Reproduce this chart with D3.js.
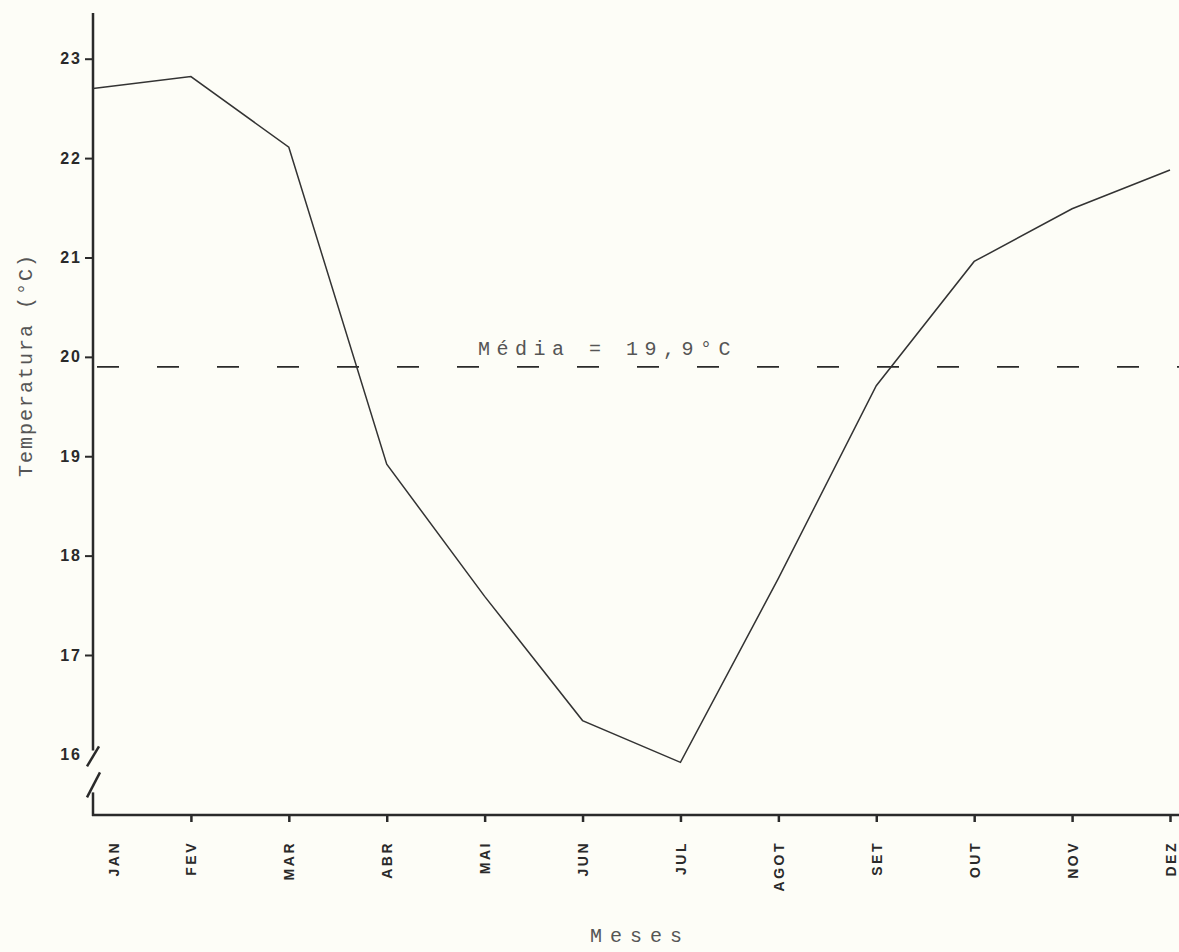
<!DOCTYPE html>
<html>
<head>
<meta charset="utf-8">
<script src="https://cdn.jsdelivr.net/npm/d3@7"></script>
<style>
  body { margin: 0; background: #fdfdf7; }
  svg { display: block; }
</style>
</head>
<body>
<div id="chart-area"></div>
<script>
const months = ['JAN', 'FEV', 'MAR', 'ABR', 'MAI', 'JUN', 'JUL', 'AGOT', 'SET', 'OUT', 'NOV', 'DEZ'];
const temps = [22.70, 22.82, 22.11, 18.92, 17.59, 16.34, 15.92, 17.77, 19.71, 20.96, 21.49, 21.88];
const yTicks = [16, 17, 18, 19, 20, 21, 22, 23];
const meanTemp = 19.9;
const meanLabel = 'Média = 19,9°C';

const W = 1179, H = 952;

const svg = d3.select('#chart-area').append('svg')
  .attr('width', W)
  .attr('height', H);

const x = d3.scalePoint()
  .domain(months)
  .range([93, 1170]);

const y = d3.scaleLinear()
  .domain([15.39, 23.46])
  .range([815, 13]);

const ink = '#2a2a2a';

// y axis: ticks + labels, domain drawn by hand because of the break
const yAx = svg.append('g')
  .attr('transform', 'translate(93,0)')
  .call(d3.axisLeft(y).tickValues(yTicks).tickSize(8).tickPadding(3).tickFormat(d3.format('d')));
yAx.select('.domain').remove();
yAx.selectAll('.tick line').attr('stroke', ink).attr('stroke-width', 2)
  .filter(d => d === 16).remove();
yAx.selectAll('.tick text')
  .attr('fill', ink)
  .attr('font-family', 'Liberation Sans, Arial, sans-serif')
  .attr('font-weight', 'bold')
  .attr('font-size', 16)
  .attr('letter-spacing', 2);

// axis line with break near 16
const yb = y(16);
svg.append('line').attr('x1', 93).attr('x2', 93).attr('y1', 13).attr('y2', yb - 4)
  .attr('stroke', ink).attr('stroke-width', 2.5);
svg.append('line').attr('x1', 93).attr('x2', 93).attr('y1', yb + 38).attr('y2', 816)
  .attr('stroke', ink).attr('stroke-width', 2.5);
svg.append('line').attr('x1', 87).attr('y1', yb + 12).attr('x2', 99).attr('y2', yb - 8)
  .attr('stroke', ink).attr('stroke-width', 2.5);
svg.append('line').attr('x1', 87).attr('y1', yb + 43).attr('x2', 100).attr('y2', yb + 18)
  .attr('stroke', ink).attr('stroke-width', 2.5);

// x axis
const xAx = svg.append('g')
  .attr('transform', 'translate(0,815)')
  .call(d3.axisBottom(x).tickSize(7).tickSizeOuter(0));
xAx.select('.domain').remove();
xAx.selectAll('.tick line').attr('stroke', ink).attr('stroke-width', 2.5)
  .filter(d => d === 'JAN').remove();
xAx.selectAll('.tick text')
  .attr('fill', ink)
  .attr('font-family', 'Liberation Sans, Arial, sans-serif')
  .attr('font-weight', 'bold')
  .attr('font-size', 14)
  .attr('letter-spacing', 2.5)
  .attr('text-anchor', 'end')
  .attr('transform', (d, i) => `translate(${i === 0 ? 20 : 0},0) rotate(-90)`)
  .attr('x', -26)
  .attr('y', 5)
  .attr('dy', 0);
svg.append('line').attr('x1', 92).attr('x2', W).attr('y1', 815).attr('y2', 815)
  .attr('stroke', ink).attr('stroke-width', 2.5);

// mean line
svg.append('line')
  .attr('x1', 95).attr('x2', W)
  .attr('y1', y(meanTemp)).attr('y2', y(meanTemp))
  .attr('stroke', ink)
  .attr('stroke-width', 1.8)
  .attr('stroke-dasharray', '22,38')
  .attr('stroke-dashoffset', -2);

svg.append('text')
  .attr('x', 478)
  .attr('y', y(meanTemp) - 12)
  .attr('fill', '#555')
  .attr('font-family', 'Liberation Mono, Courier New, monospace')
  .attr('font-size', 20)
  .attr('letter-spacing', 6.5)
  .text(meanLabel);

// temperature line
const line = d3.line()
  .x((d, i) => x(months[i]))
  .y(d => y(d));

svg.append('path')
  .datum(temps)
  .attr('d', line)
  .attr('fill', 'none')
  .attr('stroke', '#333')
  .attr('stroke-width', 1.5);

// axis titles
svg.append('text')
  .attr('transform', 'translate(32,365) rotate(-90)')
  .attr('text-anchor', 'middle')
  .attr('fill', '#555')
  .attr('font-family', 'Liberation Mono, Courier New, monospace')
  .attr('font-size', 20)
  .attr('letter-spacing', 2)
  .text('Temperatura (°C)');

svg.append('text')
  .attr('x', 640)
  .attr('y', 942)
  .attr('text-anchor', 'middle')
  .attr('fill', '#555')
  .attr('font-family', 'Liberation Mono, Courier New, monospace')
  .attr('font-size', 20)
  .attr('letter-spacing', 8)
  .text('Meses');
</script>
</body>
</html>
